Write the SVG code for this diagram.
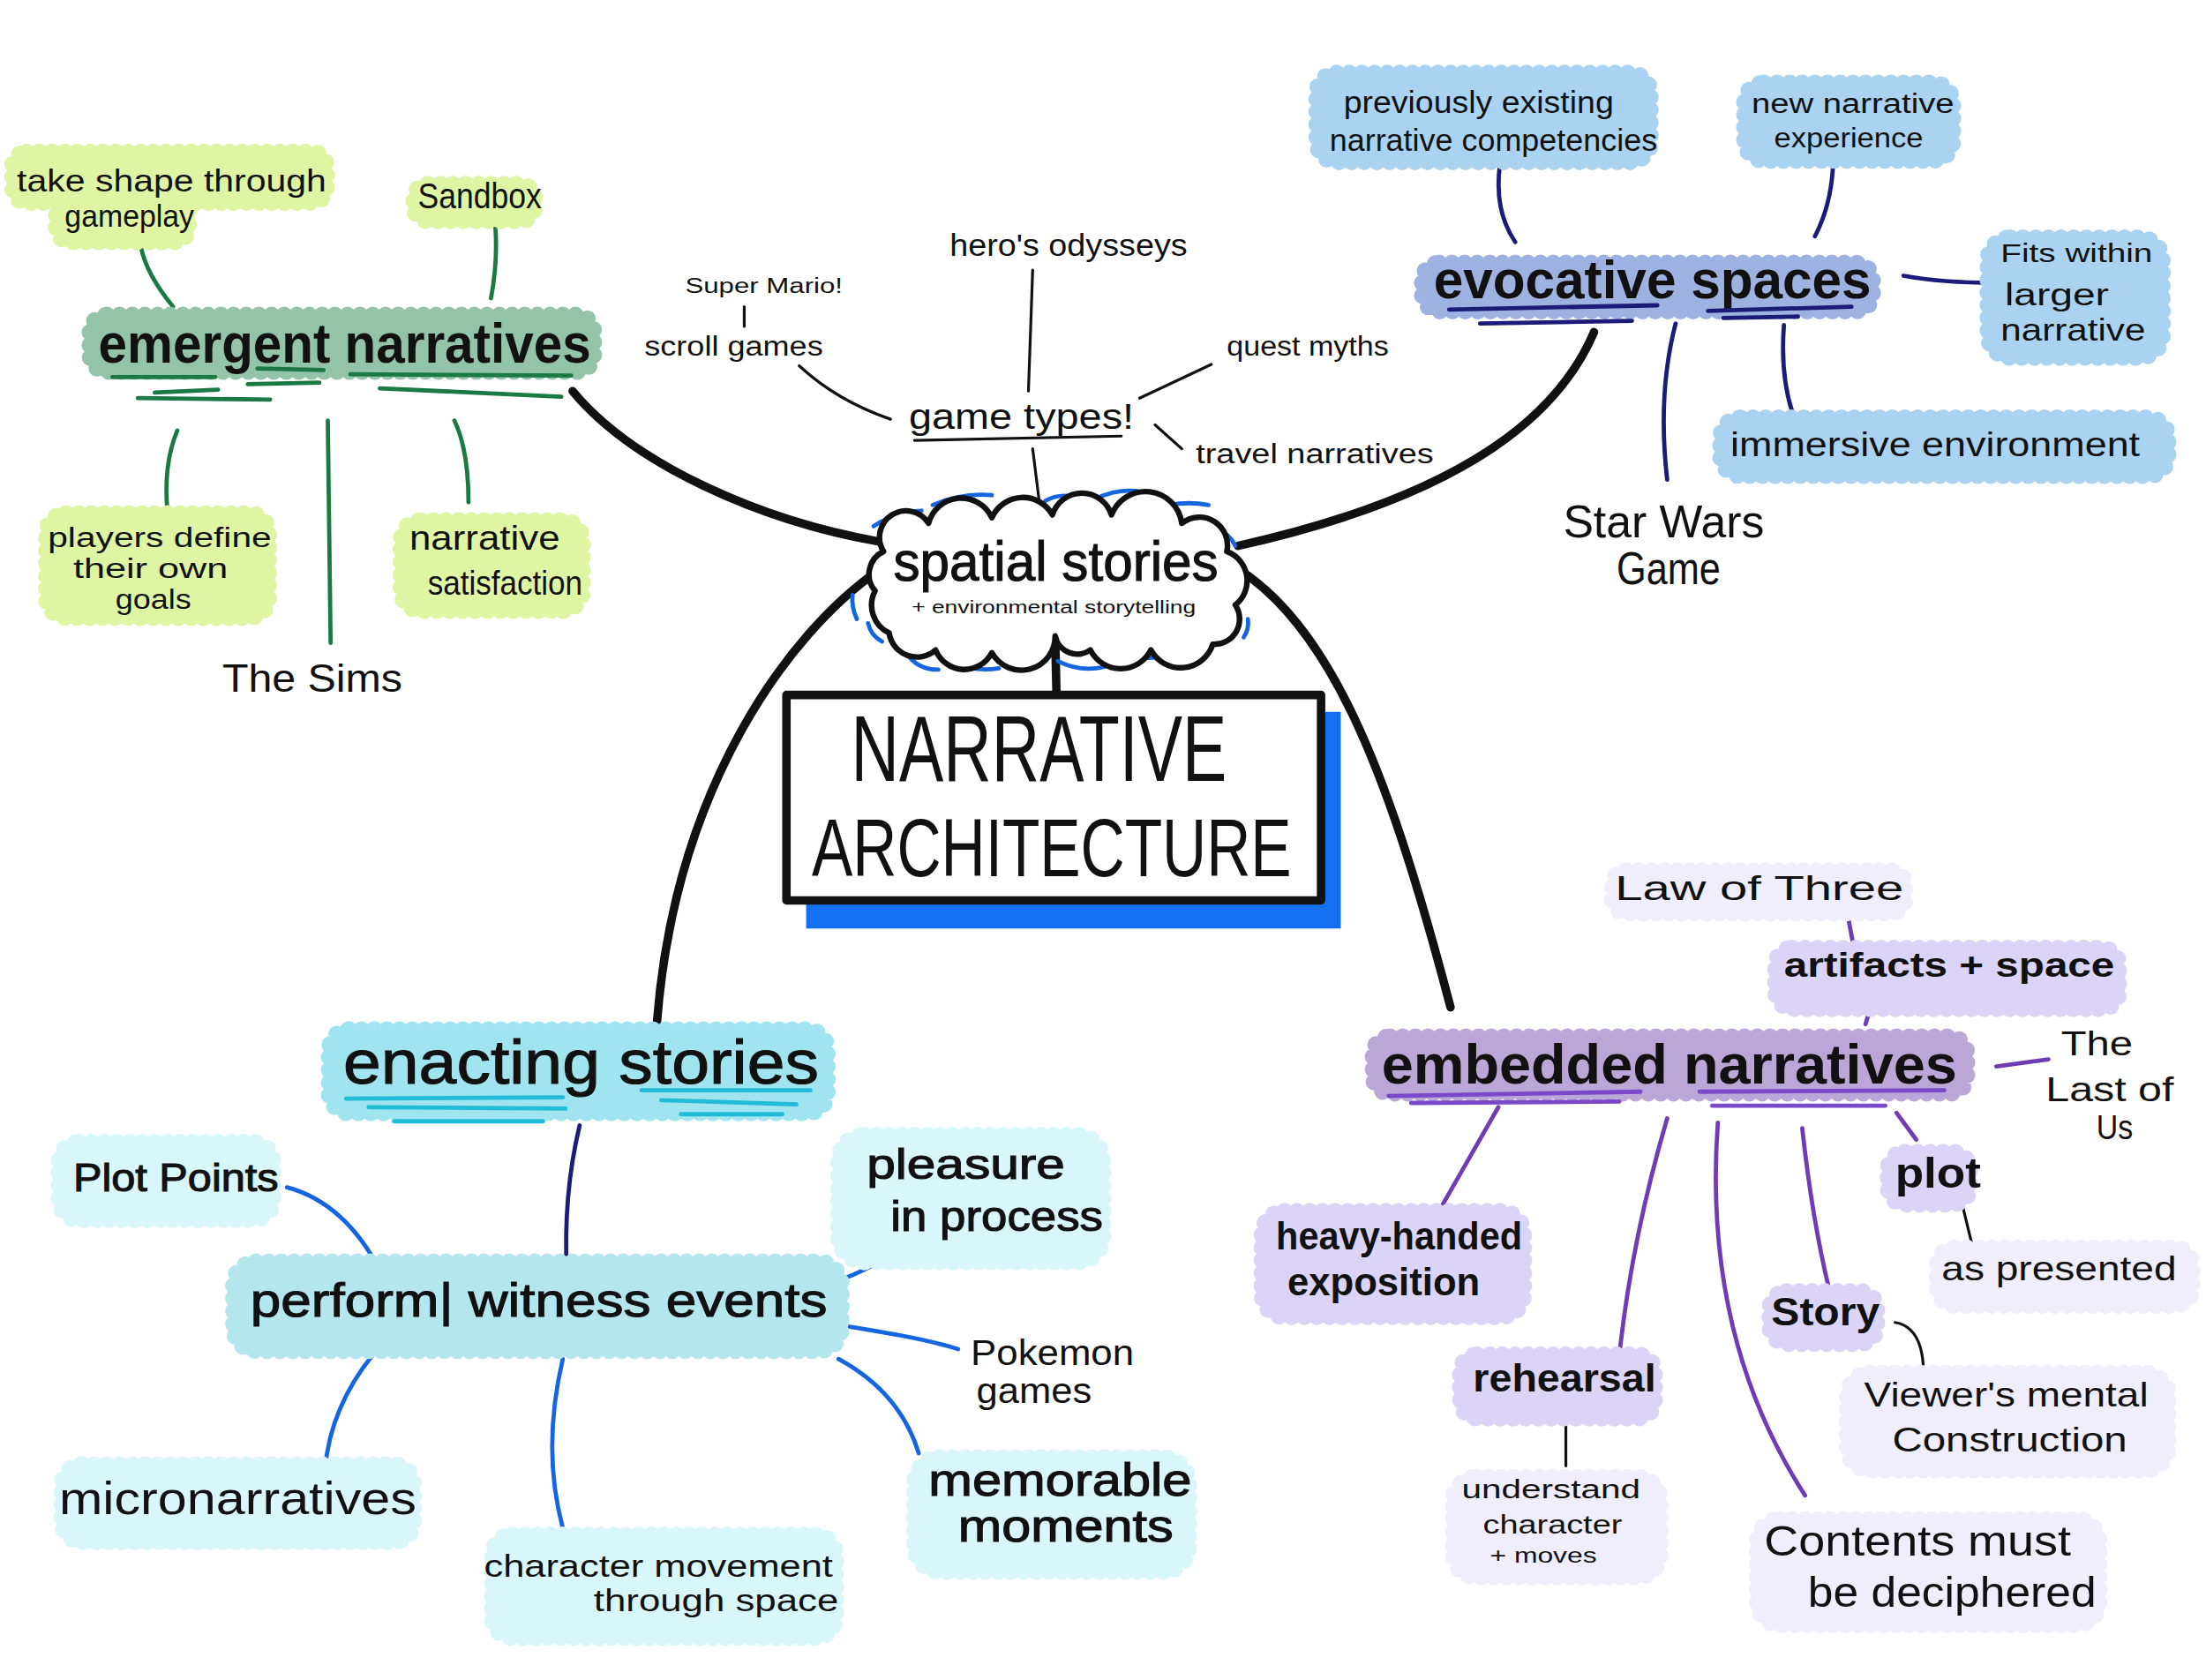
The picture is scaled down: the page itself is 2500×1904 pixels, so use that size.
<svg xmlns="http://www.w3.org/2000/svg" width="2500" height="1904" viewBox="0 0 2500 1904">
<style>
.t{font-family:"Liberation Sans","DejaVu Sans",sans-serif;fill:#111}
.b{font-weight:bold}
.m{stroke:#111;stroke-width:0.7}
.bub{stroke-linecap:round;stroke-linejoin:round;stroke-dasharray:0 9;stroke-width:12}
.c{fill:none;stroke-linecap:round;stroke-linejoin:round}
.g{stroke:#1b7a44;stroke-width:3}
.k{stroke:#111;stroke-width:2}
.K{stroke:#111;stroke-width:6}
.n{stroke:#1b1b78;stroke-width:3}
.bl{stroke:#1565e0;stroke-width:3}
.p{stroke:#6e3cb4;stroke-width:3}
.cy{stroke:#22bcd8;stroke-width:3}
.pu{stroke:#7a48c8;stroke-width:3}
.lg{fill:#dff5a3;stroke:#dff5a3}
.sg{fill:#93c3a9;stroke:#93c3a9}
.lb{fill:#a9d3f0;stroke:#a9d3f0}
.pw{fill:#9db2e0;stroke:#9db2e0}
.ec{fill:#a0e4ef;stroke:#a0e4ef}
.pc{fill:#b4e6ee;stroke:#b4e6ee}
.vc{fill:#d9f7fb;stroke:#d9f7fb}
.em{fill:#bba7d7;stroke:#bba7d7}
.lv{fill:#dcd4f7;stroke:#dcd4f7}
.vl{fill:#f0edfc;stroke:#f0edfc}
</style>
<rect width="2500" height="1904" fill="#fff"/>
<g transform="scale(1.5944)">
<g id="connectors" class="c">
<path class="g" d="M100,175 Q104,195 123,218"/>
<path class="g" d="M352,160 Q354,185 349,212"/>
<path class="g" d="M126,306 Q116,330 119,363"/>
<path class="g" d="M233,299 L235,457"/>
<path class="g" d="M323,299 Q333,320 333,357"/>
<path class="k" d="M734,192 L731,278"/>
<path class="k" d="M529,218 L529,232"/>
<path class="k" d="M568,260 Q595,285 633,298"/>
<path class="k" d="M734,319 L739,359"/>
<path class="k" d="M861,259 L810,283"/>
<path class="k" d="M821,302 L840,319"/>
<path class="K" d="M407,278 C450,330 540,370 625,385"/>
<path class="K" d="M1133,236 C1110,290 1050,350 880,388"/>
<path class="K" d="M625,405 C560,450 480,560 467,726"/>
<path class="K" d="M881,405 C950,450 990,560 1031,716"/>
<path class="K" d="M750,452 L751,496"/>
<path class="n" d="M1066,118 Q1062,150 1077,172"/>
<path class="n" d="M1303,115 Q1302,145 1290,168"/>
<path class="n" d="M1353,196 Q1380,201 1418,201"/>
<path class="n" d="M1191,230 Q1178,280 1185,341"/>
<path class="n" d="M1268,231 Q1265,270 1276,299"/>
<path class="n" d="M412,800 Q400,850 403,906"/>
<path class="bl" d="M204,844 Q245,855 270,903"/>
<path class="bl" d="M265,963 Q235,1000 231,1044"/>
<path class="bl" d="M400,966 Q385,1030 400,1086"/>
<path class="bl" d="M642,884 Q625,900 594,911"/>
<path class="bl" d="M604,943 Q660,952 681,959"/>
<path class="bl" d="M596,966 Q640,990 653,1033"/>
<path class="p" d="M1313,649 L1317,670"/>
<path class="p" d="M1332,708 L1326,728"/>
<path class="p" d="M1419,758 L1456,753"/>
<path class="p" d="M1348,791 L1362,810"/>
<path class="p" d="M1065,787 L1025,857"/>
<path class="p" d="M1185,795 Q1160,880 1151,963"/>
<path class="p" d="M1221,798 Q1210,950 1283,1063"/>
<path class="p" d="M1281,802 Q1288,866 1300,916"/>
<path class="k" d="M1393,849 L1402,886"/>
<path class="k" d="M1113,1004 L1113,1042"/>
<path class="k" d="M1347,940 Q1365,943 1367,970"/>
</g>

<g id="take-shape"><rect class="bub lg" x="9" y="108" width="223" height="36" rx="10"/><rect class="bub lg" x="40" y="140" width="94" height="32" rx="10"/>
<text class="t" x="12" y="136" font-size="22" textLength="220" lengthAdjust="spacingAndGlyphs">take shape through</text>
<text class="t" x="46" y="161" font-size="22" textLength="92" lengthAdjust="spacingAndGlyphs">gameplay</text></g>
<g id="sandbox"><rect class="bub lg" x="294" y="131" width="86" height="26" rx="10"/>
<text class="t" x="297" y="148" font-size="26" textLength="88" lengthAdjust="spacingAndGlyphs">Sandbox</text></g>
<g id="emergent"><rect class="bub sg" x="64" y="224" width="358" height="40" rx="12"/>
<text class="t b" x="70" y="258" font-size="40" textLength="350" lengthAdjust="spacingAndGlyphs">emergent narratives</text>
<g class="c g"><path d="M80,268 L153,268"/><path d="M176,273 L227,272"/><path d="M183,262 L230,263"/><path d="M98,283 L192,284"/><path d="M110,279 L155,277"/><path d="M249,266 L406,267"/><path d="M270,276 L399,282"/></g></g>
<g id="players"><rect class="bub lg" x="33" y="365" width="158" height="74" rx="14"/>
<text class="t" x="34" y="389" font-size="20" textLength="159" lengthAdjust="spacingAndGlyphs">players define</text>
<text class="t" x="52" y="411" font-size="20" textLength="110" lengthAdjust="spacingAndGlyphs">their own</text>
<text class="t" x="82" y="433" font-size="20" textLength="54" lengthAdjust="spacingAndGlyphs">goals</text></g>
<g id="satisfaction"><rect class="bub lg" x="285" y="370" width="129" height="64" rx="14"/>
<text class="t" x="291" y="391" font-size="24" textLength="107" lengthAdjust="spacingAndGlyphs">narrative</text>
<text class="t" x="304" y="423" font-size="24" textLength="110" lengthAdjust="spacingAndGlyphs">satisfaction</text></g>
<g id="sims"><text class="t" x="158" y="492" font-size="28" textLength="128" lengthAdjust="spacingAndGlyphs">The Sims</text></g>

<g id="game-types">
<text class="t" x="675" y="182" font-size="22" textLength="169" lengthAdjust="spacingAndGlyphs">hero's odysseys</text>
<text class="t" x="487" y="208" font-size="15" textLength="112" lengthAdjust="spacingAndGlyphs">Super Mario!</text>
<text class="t" x="458" y="253" font-size="20" textLength="127" lengthAdjust="spacingAndGlyphs">scroll games</text>
<text class="t" x="646" y="305" font-size="26" textLength="160" lengthAdjust="spacingAndGlyphs">game types!</text>
<path class="c k" d="M650,313 L797,310"/>
<text class="t" x="872" y="253" font-size="20" textLength="115" lengthAdjust="spacingAndGlyphs">quest myths</text>
<text class="t" x="850" y="329" font-size="20" textLength="169" lengthAdjust="spacingAndGlyphs">travel narratives</text></g>

<g id="spatial-stories">
<g class="c bl"><path d="M621,374 Q636,364 655,363"/><path d="M663,359 Q684,350 705,352"/><path d="M726,359 Q730,356 734,357"/><path d="M743,356 Q752,351 762,353"/><path d="M770,360 Q788,347 808,349"/><path d="M817,363 Q838,355 859,359"/><path d="M864,376 Q874,379 878,388"/><path d="M606,423 Q605,431 609,440"/><path d="M887,440 Q888,447 884,453"/><path d="M617,443 Q619,452 627,456"/><path d="M644,464 Q652,476 667,476"/><path d="M678,470 Q692,478 710,475"/><path d="M752,470 Q768,478 785,474"/><path d="M793,465 Q812,470 832,466"/><path d="M851,456 Q862,456 870,451"/></g>
<path d="M628,392 A18,18 0 0 1 660,372 A24,24 0 0 1 705,368 A24,24 0 0 1 748,366 A22,22 0 0 1 790,366 A26,26 0 0 1 840,372 A20,20 0 0 1 872,392 A22,22 0 0 1 878,430 A18,18 0 0 1 862,458 A24,24 0 0 1 818,462 A24,24 0 0 1 775,462 A16,16 0 0 1 750,452 A24,24 0 0 1 705,464 A22,22 0 0 1 665,462 A20,20 0 0 1 632,450 A22,22 0 0 1 622,420 A18,18 0 0 1 628,392 Z" fill="#fff" stroke="#111" stroke-width="4" stroke-linejoin="round"/>
<text class="t m" x="635" y="413" font-size="40" textLength="231" lengthAdjust="spacingAndGlyphs">spatial stories</text>
<text class="t" x="648" y="436" font-size="13" textLength="202" lengthAdjust="spacingAndGlyphs">+ environmental storytelling</text></g>

<g id="narrative-architecture">
<rect x="573" y="506" width="380" height="154" fill="#1470f0"/>
<rect x="559" y="494" width="380" height="146" fill="#fff" stroke="#111" stroke-width="6" stroke-linejoin="round"/>
<text class="t" x="605" y="555" font-size="66" textLength="267" lengthAdjust="spacingAndGlyphs">NARRATIVE</text>
<text class="t" x="577" y="623" font-size="58" textLength="341" lengthAdjust="spacingAndGlyphs">ARCHITECTURE</text></g>

<g id="previously"><rect class="bub lb" x="936" y="52" width="237" height="63" rx="14"/>
<text class="t" x="955" y="80" font-size="22" textLength="192" lengthAdjust="spacingAndGlyphs">previously existing</text>
<text class="t" x="945" y="107" font-size="22" textLength="233" lengthAdjust="spacingAndGlyphs">narrative competencies</text></g>
<g id="new-narrative"><rect class="bub lb" x="1240" y="59" width="148" height="55" rx="14"/>
<text class="t" x="1245" y="80" font-size="20" textLength="144" lengthAdjust="spacingAndGlyphs">new narrative</text>
<text class="t" x="1261" y="105" font-size="20" textLength="106" lengthAdjust="spacingAndGlyphs">experience</text></g>
<g id="evocative"><rect class="bub pw" x="1011" y="187" width="320" height="34" rx="12"/>
<text class="t b" x="1019" y="212" font-size="38" textLength="311" lengthAdjust="spacingAndGlyphs">evocative spaces</text>
<g class="c n"><path d="M1030,220 L1178,217"/><path d="M1052,230 L1160,228"/><path d="M1214,221 L1316,218"/><path d="M1225,226 L1278,225"/></g></g>
<g id="fits-within"><rect class="bub lb" x="1413" y="169" width="124" height="85" rx="16"/>
<text class="t" x="1422" y="186" font-size="19" textLength="108" lengthAdjust="spacingAndGlyphs">Fits within</text>
<text class="t" x="1425" y="217" font-size="22" textLength="74" lengthAdjust="spacingAndGlyphs">larger</text>
<text class="t" x="1422" y="242" font-size="22" textLength="103" lengthAdjust="spacingAndGlyphs">narrative</text></g>
<g id="immersive"><rect class="bub lb" x="1223" y="297" width="318" height="41" rx="14"/>
<text class="t" x="1230" y="324" font-size="24" textLength="291" lengthAdjust="spacingAndGlyphs">immersive environment</text></g>
<g id="star-wars">
<text class="t" x="1111" y="382" font-size="32" textLength="143" lengthAdjust="spacingAndGlyphs">Star Wars</text>
<text class="t" x="1149" y="415" font-size="32" textLength="74" lengthAdjust="spacingAndGlyphs">Game</text></g>

<g id="enacting"><rect class="bub ec" x="234" y="732" width="354" height="59" rx="14"/>
<text class="t m" x="244" y="770" font-size="44" textLength="338" lengthAdjust="spacingAndGlyphs">enacting stories</text>
<g class="c cy"><path d="M246,781 L400,780"/><path d="M262,787 L402,788"/><path d="M280,797 L386,797"/><path d="M456,775 L576,775"/><path d="M470,782 L566,785"/><path d="M484,792 L556,792"/></g></g>
<g id="perform"><rect class="bub pc" x="166" y="897" width="432" height="63" rx="16"/>
<text class="t m" x="178" y="936" font-size="34" textLength="410" lengthAdjust="spacingAndGlyphs">perform| witness events</text></g>
<g id="plot-points"><rect class="bub vc" x="42" y="812" width="152" height="55" rx="14"/>
<text class="t m" x="52" y="847" font-size="28" textLength="146" lengthAdjust="spacingAndGlyphs">Plot Points</text></g>
<g id="micronarratives"><rect class="bub vc" x="44" y="1041" width="250" height="55" rx="14"/>
<text class="t" x="42" y="1076" font-size="32" textLength="254" lengthAdjust="spacingAndGlyphs">micronarratives</text></g>
<g id="character-movement"><rect class="bub vc" x="350" y="1091" width="244" height="73" rx="14"/>
<text class="t" x="344" y="1121" font-size="22" textLength="248" lengthAdjust="spacingAndGlyphs">character movement</text>
<text class="t" x="422" y="1145" font-size="22" textLength="174" lengthAdjust="spacingAndGlyphs">through space</text></g>
<g id="pleasure"><rect class="bub vc" x="596" y="807" width="188" height="90" rx="18"/>
<text class="t m" x="616" y="838" font-size="30" textLength="141" lengthAdjust="spacingAndGlyphs">pleasure</text>
<text class="t m" x="633" y="875" font-size="30" textLength="151" lengthAdjust="spacingAndGlyphs">in process</text></g>
<g id="pokemon">
<text class="t" x="690" y="970" font-size="26" textLength="116" lengthAdjust="spacingAndGlyphs">Pokemon</text>
<text class="t" x="694" y="997" font-size="26" textLength="82" lengthAdjust="spacingAndGlyphs">games</text></g>
<g id="memorable"><rect class="bub vc" x="650" y="1036" width="195" height="81" rx="18"/>
<text class="t m" x="660" y="1063" font-size="32" textLength="187" lengthAdjust="spacingAndGlyphs">memorable</text>
<text class="t m" x="681" y="1096" font-size="32" textLength="153" lengthAdjust="spacingAndGlyphs">moments</text></g>

<g id="law-of-three"><rect class="bub vl" x="1146" y="619" width="208" height="30" rx="10"/>
<text class="t" x="1148" y="640" font-size="24" textLength="205" lengthAdjust="spacingAndGlyphs">Law of Three</text></g>
<g id="artifacts"><rect class="bub lv" x="1262" y="674" width="244" height="43" rx="12"/>
<text class="t b" x="1268" y="694" font-size="24" textLength="235" lengthAdjust="spacingAndGlyphs">artifacts + space</text></g>
<g id="embedded"><rect class="bub em" x="976" y="737" width="422" height="40" rx="12"/>
<text class="t b" x="982" y="770" font-size="40" textLength="409" lengthAdjust="spacingAndGlyphs">embedded narratives</text>
<g class="c pu"><path d="M987,779 L1166,776"/><path d="M1003,784 L1151,783"/><path d="M1208,776 L1382,775"/><path d="M1217,786 L1340,786"/></g></g>
<g id="last-of-us">
<text class="t" x="1465" y="750" font-size="24" textLength="51" lengthAdjust="spacingAndGlyphs">The</text>
<text class="t" x="1454" y="783" font-size="24" textLength="91" lengthAdjust="spacingAndGlyphs">Last of</text>
<text class="t" x="1490" y="810" font-size="24" textLength="26" lengthAdjust="spacingAndGlyphs">Us</text></g>
<g id="plot"><rect class="bub lv" x="1342" y="819" width="58" height="37" rx="12"/>
<text class="t b" x="1347" y="844" font-size="30" textLength="61" lengthAdjust="spacingAndGlyphs">plot</text></g>
<g id="as-presented"><rect class="bub vl" x="1377" y="887" width="181" height="41" rx="12"/>
<text class="t" x="1380" y="910" font-size="24" textLength="167" lengthAdjust="spacingAndGlyphs">as presented</text></g>
<g id="heavy-handed"><rect class="bub lv" x="897" y="861" width="186" height="75" rx="16"/>
<text class="t b" x="907" y="888" font-size="28" textLength="175" lengthAdjust="spacingAndGlyphs">heavy-handed</text>
<text class="t b" x="915" y="921" font-size="28" textLength="137" lengthAdjust="spacingAndGlyphs">exposition</text></g>
<g id="rehearsal"><rect class="bub lv" x="1038" y="963" width="138" height="45" rx="12"/>
<text class="t b" x="1047" y="989" font-size="28" textLength="130" lengthAdjust="spacingAndGlyphs">rehearsal</text></g>
<g id="understand"><rect class="bub vl" x="1033" y="1050" width="147" height="71" rx="16"/>
<text class="t" x="1039" y="1065" font-size="18" textLength="127" lengthAdjust="spacingAndGlyphs">understand</text>
<text class="t" x="1054" y="1090" font-size="18" textLength="99" lengthAdjust="spacingAndGlyphs">character</text>
<text class="t" x="1059" y="1111" font-size="15" textLength="76" lengthAdjust="spacingAndGlyphs">+ moves</text></g>
<g id="contents"><rect class="bub vl" x="1249" y="1080" width="243" height="75" rx="16"/>
<text class="t" x="1254" y="1106" font-size="30" textLength="218" lengthAdjust="spacingAndGlyphs">Contents must</text>
<text class="t" x="1285" y="1142" font-size="30" textLength="205" lengthAdjust="spacingAndGlyphs">be deciphered</text></g>
<g id="story"><rect class="bub lv" x="1258" y="918" width="76" height="37" rx="12"/>
<text class="t b" x="1259" y="942" font-size="28" textLength="77" lengthAdjust="spacingAndGlyphs">Story</text></g>
<g id="viewers"><rect class="bub vl" x="1313" y="976" width="228" height="69" rx="16"/>
<text class="t" x="1325" y="1000" font-size="24" textLength="202" lengthAdjust="spacingAndGlyphs">Viewer's mental</text>
<text class="t" x="1345" y="1032" font-size="24" textLength="167" lengthAdjust="spacingAndGlyphs">Construction</text></g>
</g>
</svg>
